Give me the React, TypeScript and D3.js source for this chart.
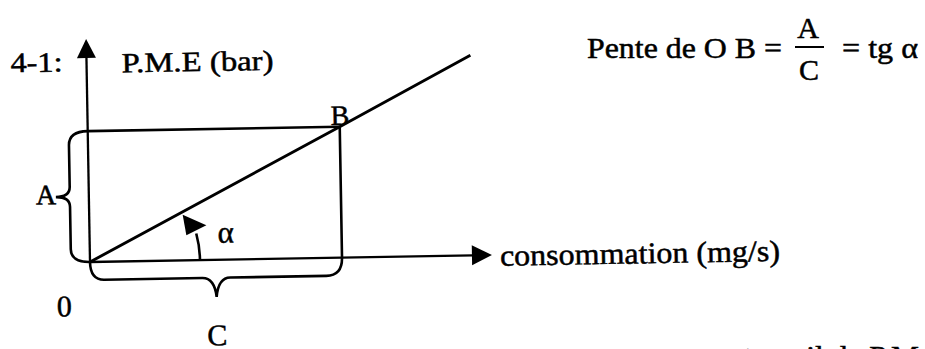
import * as d3 from "d3";
import { useEffect } from "react";

// axes run from 0 to these values (consommation, P.M.E)
const axisMax = [10, 10];
// straight line O -> B -> end of the drawn line
const lineConsumption = [0, 6.27, 9.55];
const linePme = [0, 5.87, 8.97];
const axisTitles = ["consommation (mg/s)", "P.M.E (bar)"];
const figureTag = "4-1:";
const formula = ["Pente de O B =", "A", "C", "= tg α"];
const bottomLine = "au travail de P.M.E";

const deg = Math.PI / 180;
const font = "'Liberation Serif', 'Times New Roman', serif";

export default function App() {
  const width = 925,
    height = 349;
  const origin = [90, 262];
  const tilt = -1.0; // the scanned figure is a little rotated

  useEffect(() => {
    document.body.style.margin = "0";
  }, []);

  const x = d3.scaleLinear().domain([0, axisMax[0]]).range([0, 402]);
  const y = d3.scaleLinear().domain([0, axisMax[1]]).range([0, -223]);

  const xEnd = x(axisMax[0]);
  const yEnd = y(axisMax[1]);
  const xB = x(lineConsumption[1]);
  const yB = y(linePme[1]);

  const line = d3
    .line<number>()
    .x((d) => x(lineConsumption[d]))
    .y((d) => y(linePme[d]));

  // brace A, left of the P.M.E axis
  const yMid = yB / 2;
  const braceA = d3.path();
  braceA.moveTo(0, yB);
  braceA.quadraticCurveTo(-19, yB, -19, yB + 14);
  braceA.lineTo(-19, yMid - 10);
  braceA.quadraticCurveTo(-19, yMid, -33, yMid);
  braceA.quadraticCurveTo(-19, yMid, -19, yMid + 10);
  braceA.lineTo(-19, -13);
  braceA.quadraticCurveTo(-19, 0, 0, 0);

  // rectangle right side continuing into brace C under the x axis
  const xMid = xB / 2;
  const braceC = d3.path();
  braceC.moveTo(xB, yB);
  braceC.lineTo(xB, 0);
  braceC.quadraticCurveTo(xB, 18, xB - 16, 18);
  braceC.lineTo(xMid + 14, 18);
  braceC.quadraticCurveTo(xMid + 2, 18, xMid, 37);
  braceC.quadraticCurveTo(xMid - 2, 18, xMid - 14, 18);
  braceC.lineTo(14, 18);
  braceC.quadraticCurveTo(0, 18, 0, 0);

  // angle alpha
  const r = 110;
  const arc = d3.path();
  arc.arc(0, 0, r, 0, -14 * deg, true);
  const polar = (rad: number, a: number) => [rad * Math.cos(a * deg), -rad * Math.sin(a * deg)];
  const head = [polar(104, 26), polar(100, 14.5), polar(122, 16.5)];

  const stroke = { stroke: "#000", fill: "none", strokeWidth: 2.6 };

  return (
    <svg
      width={width}
      height={height}
      style={{ position: "absolute", left: 0, top: 0, background: "#fff" }}
      fontFamily={font}
    >
      <rect width={width} height={height} fill="#fff" />
      <g transform={`translate(${origin[0]},${origin[1]}) rotate(${tilt})`}>
        {/* axes */}
        <line x1={0} y1={0} x2={0} y2={yEnd + 18} {...stroke} strokeWidth={2.3} />
        <path d={`M0,${yEnd}L-9.5,${yEnd + 19}L9.5,${yEnd + 19}Z`} fill="#000" />
        <line x1={0} y1={0} x2={xEnd - 19} y2={0} {...stroke} strokeWidth={2.3} />
        <path d={`M${xEnd},0L${xEnd - 20},-10L${xEnd - 20},10Z`} fill="#000" />

        {/* O B line and box */}
        <path d={line([0, 1, 2]) ?? ""} {...stroke} strokeWidth={2.9} />
        <line x1={0} y1={yB} x2={xB} y2={yB} {...stroke} />
        <path d={braceA.toString()} {...stroke} />
        <path d={braceC.toString()} {...stroke} />

        {/* alpha */}
        <path d={arc.toString()} {...stroke} />
        <path d={`M${head.map((p) => p.join(",")).join("L")}Z`} fill="#000" />

        {/* labels */}
        <g fontSize={28} fill="#000" stroke="#000" strokeWidth={0.5}>
          <text x={-76} y={-191} textLength={52} lengthAdjust="spacingAndGlyphs">
            {figureTag}
          </text>
          <text x={35} y={-189} textLength={152} lengthAdjust="spacingAndGlyphs">
            {axisTitles[1]}
          </text>
          <text x={xB - 9} y={yB - 2}>
            B
          </text>
          <text x={-53} y={yMid + 7}>
            A
          </text>
          <text x={r + 18} y={-17} fontSize={31}>
            α
          </text>
          <text x={x(10.2)} y={11} fontSize={30} textLength={280} lengthAdjust="spacingAndGlyphs">
            {axisTitles[0]}
          </text>
          <text x={-34} y={54} fontSize={30}>
            0
          </text>
          <text x={xMid} y={85.5} fontSize={30} textAnchor="middle">
            C
          </text>
        </g>
      </g>

      {/* slope formula */}
      <g fontSize={30} fill="#000" stroke="#000" strokeWidth={0.5}>
        <text x={587} y={58} textLength={195} lengthAdjust="spacingAndGlyphs">
          {formula[0]}
        </text>
        <text x={808} y={38} textAnchor="middle">
          {formula[1]}
        </text>
        <line x1={795} y1={47} x2={824} y2={47} stroke="#000" strokeWidth={2} />
        <text x={809} y={80} textAnchor="middle">
          {formula[2]}
        </text>
        <text x={842} y={58} textLength={76} lengthAdjust="spacingAndGlyphs">
          {formula[3]}
        </text>
        <text x={706} y={366} textLength={240} lengthAdjust="spacingAndGlyphs">
          {bottomLine}
        </text>
      </g>
    </svg>
  );
}
